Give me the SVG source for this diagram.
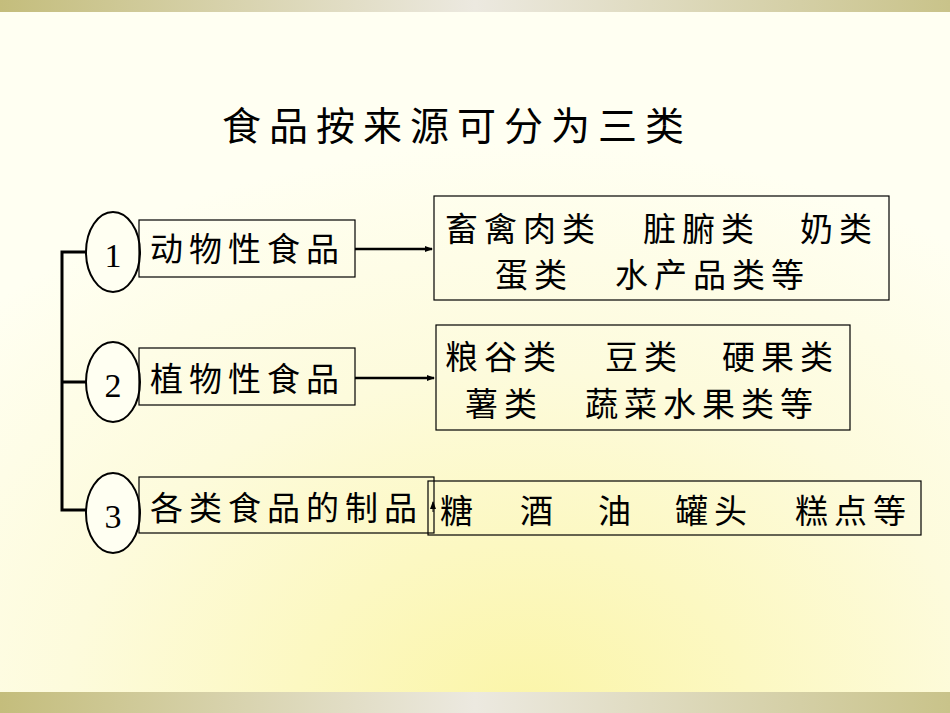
<svg xmlns="http://www.w3.org/2000/svg" width="950" height="713" viewBox="0 0 950 713">
<defs>
<linearGradient id="band" x1="0" x2="1" y1="0" y2="0"><stop offset="0" stop-color="#c4bd7c"/><stop offset="0.5" stop-color="#ece9e0"/><stop offset="1" stop-color="#c9c38a"/></linearGradient>
<radialGradient id="bg" cx="0.55" cy="1" r="0.8"><stop offset="0" stop-color="#fbf5a8"/><stop offset="0.6" stop-color="#fdfbdc"/><stop offset="1" stop-color="#fffff2"/></radialGradient>
<marker id="ah" markerWidth="8" markerHeight="8" refX="7" refY="4" orient="auto" markerUnits="userSpaceOnUse"><path d="M0,1 L8,4 L0,7 Z" fill="#000"/></marker>
<style>
.t{font-family:"Liberation Serif","Noto Sans CJK SC",serif;font-size:33px;fill:#000;letter-spacing:6px}
.n{font-family:"Liberation Serif",serif;font-size:34px;fill:#000}
.b{fill:none;stroke:#000;stroke-width:1.2}
.c{fill:#fffff2;stroke:#000;stroke-width:2}
.l{fill:none;stroke:#000;stroke-width:3}
</style>
</defs>
<rect width="950" height="713" fill="url(#bg)"/>
<rect width="950" height="12" fill="url(#band)"/>
<rect y="692" width="950" height="21" fill="url(#band)"/>
<text x="222" y="140" class="t" style="font-size:39px;letter-spacing:8px">食品按来源可分为三类</text>
<g id="connectors">
<path class="l" d="M86,252 H62 V510 H86 M62,382 H86"/>
<path d="M355,249 H432" stroke="#000" stroke-width="2.5" marker-end="url(#ah)"/>
<path d="M355,378 H434" stroke="#000" stroke-width="2.5" marker-end="url(#ah)"/>
<path d="M433,512 V502" stroke="#000" stroke-width="1" marker-end="url(#ah)"/>
</g>
<g id="n1"><ellipse class="c" cx="113" cy="252" rx="27" ry="40"/><text x="113" y="267" class="n" text-anchor="middle">1</text></g>
<g id="n2"><ellipse class="c" cx="113" cy="382" rx="27" ry="40"/><text x="113" y="397" class="n" text-anchor="middle">2</text></g>
<g id="n3"><ellipse class="c" cx="113" cy="513" rx="27" ry="40"/><text x="113" y="528" class="n" text-anchor="middle">3</text></g>
<g id="a1"><rect class="b" x="139" y="220" width="216" height="57"/><text x="150" y="261" class="t">动物性食品</text></g>
<g id="a2"><rect class="b" x="139" y="348" width="216" height="57"/><text x="150" y="391" class="t">植物性食品</text></g>
<g id="a3"><rect class="b" x="139" y="477" width="295" height="56"/><text x="150" y="520" class="t">各类食品的制品</text></g>
<g id="r1"><rect class="b" x="434" y="196" width="455" height="104"/>
<text y="241" class="t"><tspan x="445">畜禽肉类</tspan><tspan x="643">脏腑类</tspan><tspan x="800">奶类</tspan></text>
<text y="287" class="t"><tspan x="495">蛋类</tspan><tspan x="615">水产品类等</tspan></text></g>
<g id="r2"><rect class="b" x="436" y="325" width="414" height="105"/>
<text y="369" class="t"><tspan x="445">粮谷类</tspan><tspan x="605">豆类</tspan><tspan x="722">硬果类</tspan></text>
<text y="416" class="t"><tspan x="465">薯类</tspan><tspan x="585">蔬菜水果类等</tspan></text></g>
<g id="r3"><rect class="b" x="428" y="481" width="493" height="54"/>
<text y="523" class="t"><tspan x="440">糖</tspan><tspan x="520">酒</tspan><tspan x="598">油</tspan><tspan x="675">罐头</tspan><tspan x="795">糕点等</tspan></text></g>
</svg>
